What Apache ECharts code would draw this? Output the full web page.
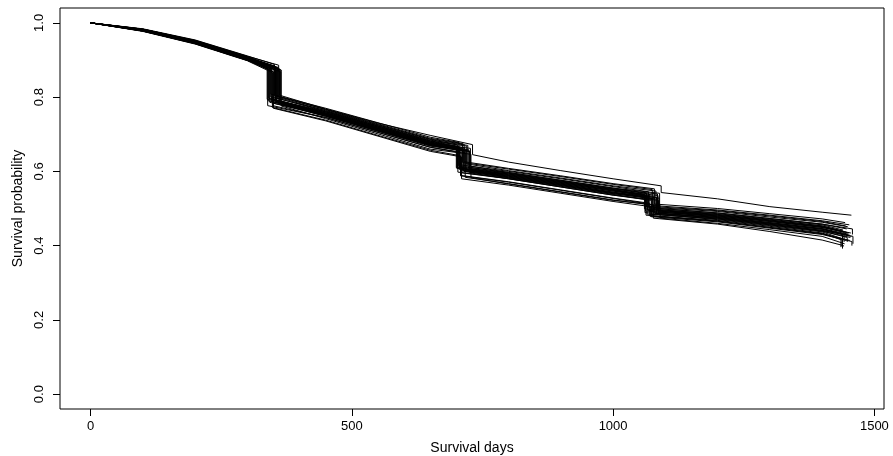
<!DOCTYPE html>
<html>
<head>
<meta charset="utf-8">
<script src="https://cdn.jsdelivr.net/npm/echarts@6/dist/echarts.min.js"></script>
<style>
html,body{margin:0;padding:0;background:#fff;}
#chart{width:893px;height:456px;}
</style>
</head>
<body>
<div id="chart"></div>
<script>
// Axis ticks
const xTicks = [0, 500, 1000, 1500];
const yTicks = [0, 0.2, 0.4, 0.6, 0.8, 1.0];

// Fixed knot days (between the per-curve drop days)
const knotDays = [100, 200, 300, 450, 550, 650, 800, 900, 1000, 1200, 1300, 1400];

// Per-curve drop days (first, second, third big drop) and last follow-up day
const drop1Days = [352, 345, 358, 340, 362, 348, 355, 343, 365, 350, 360, 338, 347, 356, 342, 363, 353, 349, 344, 357, 354, 346, 359, 341, 361, 351, 364, 339, 362];
const drop2Days = [712, 705, 720, 700, 725, 708, 716, 703, 728, 710, 722, 701, 707, 718, 704, 726, 713, 709, 702, 715, 714, 706, 719, 702, 724, 711, 727, 717, 731];
const drop3Days = [1075, 1068, 1082, 1060, 1088, 1065, 1078, 1063, 1090, 1072, 1085, 1061, 1067, 1080, 1064, 1087, 1074, 1070, 1062, 1079, 1076, 1066, 1083, 1069, 1086, 1073, 1089, 1077, 1092];
const lastDays  = [1452, 1445, 1458, 1440, 1455, 1448, 1450, 1436, 1443, 1457, 1447, 1453, 1441, 1459, 1449, 1438, 1454, 1446, 1451, 1444, 1450, 1442, 1456, 1447, 1439, 1453, 1437, 1441, 1456];
// Final drop at the last day (null = none)
const lastDrop  = [null, null, 0.430, null, null, 0.410, null, 0.396, null, 0.400, null, null, null, 0.405, null, 0.398, null, null, null, null, null, 0.410, null, null, 0.392, null, null, 0.398, null];

// Survival values per curve:
// [d100, d200, d300, beforeDrop1, afterDrop1, d450, d550, d650, beforeDrop2, afterDrop2,
//  d800, d900, d1000, beforeDrop3, afterDrop3, d1200, d1300, d1400, lastDay]
const survivalCurves = [
  [0.984,0.954,0.911,0.888, 0.804,0.767,0.728,0.689,0.675, 0.624,0.606,0.586,0.565,0.551, 0.508,0.496,0.482,0.467,0.456],
  [0.983,0.952,0.908,0.884, 0.808,0.770,0.731,0.692,0.678, 0.618,0.600,0.580,0.559,0.545, 0.506,0.494,0.480,0.465,0.453],
  [0.981,0.950,0.906,0.879, 0.797,0.761,0.722,0.682,0.668, 0.620,0.602,0.582,0.561,0.547, 0.501,0.488,0.473,0.458,0.445],
  [0.980,0.947,0.903,0.875, 0.790,0.755,0.716,0.676,0.662, 0.610,0.593,0.572,0.551,0.537, 0.499,0.486,0.471,0.456,0.442],
  [0.978,0.945,0.901,0.870, 0.783,0.749,0.709,0.670,0.655, 0.602,0.585,0.564,0.542,0.528, 0.493,0.480,0.465,0.449,0.434],
  [0.977,0.943,0.898,0.866, 0.772,0.738,0.697,0.657,0.642, 0.588,0.571,0.549,0.527,0.513, 0.485,0.472,0.456,0.439,0.422],
  [0.982,0.951,0.907,0.881, 0.792,0.757,0.717,0.678,0.663, 0.606,0.589,0.568,0.547,0.533, 0.491,0.478,0.462,0.446,0.431],
  [0.981,0.949,0.905,0.877, 0.786,0.752,0.712,0.673,0.658, 0.598,0.581,0.560,0.538,0.524, 0.482,0.468,0.452,0.434,0.416],
  [0.979,0.946,0.902,0.873, 0.776,0.742,0.701,0.660,0.646, 0.583,0.566,0.544,0.522,0.508, 0.474,0.460,0.443,0.425,0.405],
  [0.978,0.944,0.899,0.868, 0.770,0.736,0.695,0.654,0.639, 0.580,0.563,0.541,0.519,0.505, 0.478,0.464,0.447,0.430,0.411],
  [0.983,0.953,0.910,0.886, 0.799,0.763,0.723,0.684,0.670, 0.612,0.595,0.574,0.553,0.539, 0.495,0.482,0.467,0.451,0.436],
  [0.982,0.950,0.906,0.880, 0.794,0.758,0.719,0.679,0.665, 0.608,0.591,0.570,0.549,0.535, 0.489,0.476,0.460,0.444,0.428],
  [0.980,0.948,0.904,0.876, 0.788,0.754,0.714,0.674,0.660, 0.604,0.587,0.566,0.544,0.530, 0.497,0.484,0.469,0.453,0.439],
  [0.979,0.946,0.901,0.872, 0.785,0.751,0.711,0.671,0.657, 0.600,0.583,0.562,0.540,0.526, 0.487,0.474,0.458,0.441,0.425],
  [0.981,0.949,0.905,0.878, 0.795,0.760,0.720,0.681,0.666, 0.614,0.597,0.576,0.555,0.541, 0.504,0.492,0.477,0.463,0.451],
  [0.979,0.947,0.903,0.874, 0.781,0.748,0.708,0.668,0.653, 0.596,0.580,0.558,0.536,0.522, 0.484,0.470,0.454,0.437,0.419],
  [0.982,0.951,0.908,0.883, 0.790,0.755,0.716,0.676,0.662, 0.602,0.585,0.564,0.542,0.528, 0.485,0.472,0.456,0.439,0.422],
  [0.978,0.945,0.900,0.869, 0.777,0.745,0.705,0.665,0.650, 0.589,0.572,0.550,0.528,0.514, 0.480,0.466,0.449,0.432,0.414],
  [0.983,0.952,0.909,0.885, 0.801,0.764,0.725,0.686,0.671, 0.610,0.593,0.572,0.551,0.537, 0.493,0.480,0.465,0.449,0.434],
  [0.981,0.949,0.905,0.877, 0.803,0.766,0.726,0.687,0.673, 0.626,0.608,0.588,0.567,0.553, 0.512,0.500,0.486,0.472,0.462],
  [0.981,0.949,0.905,0.878, 0.788,0.754,0.714,0.674,0.660, 0.600,0.583,0.562,0.540,0.526, 0.489,0.476,0.460,0.444,0.428],
  [0.980,0.947,0.903,0.875, 0.794,0.758,0.719,0.679,0.665, 0.606,0.589,0.568,0.547,0.533, 0.495,0.482,0.467,0.451,0.436],
  [0.982,0.950,0.906,0.880, 0.785,0.751,0.711,0.671,0.657, 0.604,0.587,0.566,0.544,0.530, 0.487,0.474,0.458,0.441,0.425],
  [0.980,0.948,0.904,0.876, 0.797,0.761,0.722,0.682,0.668, 0.612,0.595,0.574,0.553,0.539, 0.501,0.488,0.473,0.458,0.445],
  [0.979,0.946,0.902,0.873, 0.786,0.752,0.712,0.673,0.658, 0.608,0.591,0.570,0.549,0.535, 0.491,0.478,0.462,0.446,0.431],
  [0.983,0.952,0.908,0.884, 0.783,0.749,0.709,0.670,0.655, 0.596,0.580,0.558,0.536,0.522, 0.480,0.466,0.449,0.432,0.414],
  [0.978,0.944,0.899,0.868, 0.790,0.755,0.716,0.676,0.662, 0.614,0.597,0.576,0.555,0.541, 0.497,0.484,0.469,0.453,0.439],
  [0.981,0.950,0.906,0.879, 0.777,0.745,0.705,0.665,0.650, 0.584,0.567,0.545,0.523,0.509, 0.474,0.458,0.438,0.415,0.400],
  [0.982,0.950,0.906,0.876, 0.805,0.768,0.730,0.697,0.672, 0.645,0.625,0.602,0.580,0.561, 0.543,0.526,0.505,0.490,0.482]
];

function buildCurve(i) {
  const s = survivalCurves[i];
  const k = knotDays;
  const pts = [[0, 1.0],
    [k[0], s[0]], [k[1], s[1]], [k[2], s[2]],
    [drop1Days[i], s[3]], [drop1Days[i], s[4]],
    [k[3], s[5]], [k[4], s[6]], [k[5], s[7]],
    [drop2Days[i], s[8]], [drop2Days[i], s[9]],
    [k[6], s[10]], [k[7], s[11]], [k[8], s[12]],
    [drop3Days[i], s[13]], [drop3Days[i], s[14]],
    [k[9], s[15]], [k[10], s[16]], [k[11], s[17]],
    [lastDays[i], s[18]]];
  if (lastDrop[i] !== null) pts.push([lastDays[i], lastDrop[i]]);
  return pts;
}

const series = survivalCurves.map((_, i) => ({
  type: 'line',
  data: buildCurve(i),
  showSymbol: false,
  symbol: 'none',
  silent: true,
  lineStyle: { color: '#000', width: 1 },
  z: 2
}));

const FONT = "'Liberation Sans', Arial, sans-serif";
const chart = echarts.init(document.getElementById('chart'), null, { renderer: 'canvas' });
chart.setOption({
  animation: false,
  backgroundColor: '#fff',
  grid: { left: 60, right: 9, top: 8, bottom: 47, show: true, borderColor: '#000', borderWidth: 1,
    backgroundColor: 'transparent', containLabel: false, outerBoundsMode: 'none' },
  xAxis: {
    type: 'value',
    min: -58.4, max: 1518.4,
    axisLine: { show: false, onZero: false },
    splitLine: { show: false },
    axisTick: { show: true, length: 7, customValues: xTicks, lineStyle: { color: '#000', width: 1 } },
    axisLabel: { customValues: xTicks, color: '#000', fontSize: 13, fontFamily: FONT, margin: 11,
      formatter: v => String(v) },
    name: 'Survival days',
    nameLocation: 'middle',
    nameGap: 32,
    nameTextStyle: { color: '#000', fontSize: 14, fontFamily: FONT }
  },
  yAxis: {
    type: 'value',
    min: -0.04, max: 1.04,
    axisLine: { show: false, onZero: false },
    splitLine: { show: false },
    axisTick: { show: true, length: 7, customValues: yTicks, lineStyle: { color: '#000', width: 1 } },
    axisLabel: { customValues: yTicks, rotate: 90, color: '#000', fontSize: 13, fontFamily: FONT, margin: 14,
      formatter: v => v.toFixed(1) },
    name: 'Survival probability',
    nameLocation: 'middle',
    nameGap: 34,
    nameTextStyle: { color: '#000', fontSize: 14, fontFamily: FONT }
  },
  series: series
});
</script>
</body>
</html>
